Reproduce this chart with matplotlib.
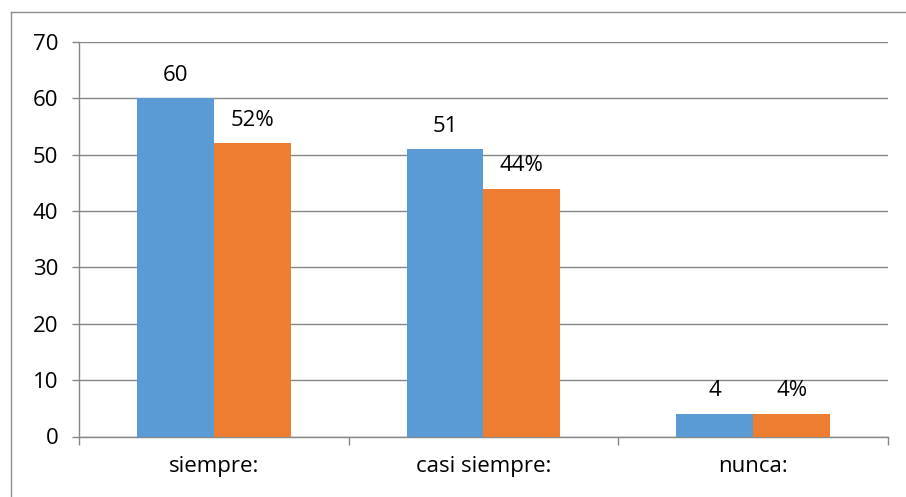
import matplotlib.pyplot as plt
import numpy as np
from matplotlib.lines import Line2D

# Survey answers: counts and percentages per option
categories = ['siempre:', 'casi siempre:', 'nunca:']
counts = [60, 51, 4]
percents = [52, 44, 4]

plt.rcParams['font.family'] = ['Open Sans', 'DejaVu Sans']

fig = plt.figure(figsize=(9.06, 4.97), dpi=100)
ax = fig.add_axes([79 / 906, 1 - 436.5 / 497, 809 / 906, 394.5 / 497])

x = np.arange(len(categories))
w = 0.285
blue = '#5B9BD5'
orange = '#ED7D31'
grid_c = '#868686'

b1 = ax.bar(x - w / 2, counts, w, color=blue, zorder=3)
b2 = ax.bar(x + w / 2, percents, w, color=orange, zorder=3)

for rect, v in zip(b1, counts):
    ax.annotate(str(v), (rect.get_x() + rect.get_width() / 2, v),
                xytext=(0, 9), textcoords='offset points',
                ha='center', va='bottom', fontsize=16)
for rect, v in zip(b2, percents):
    ax.annotate(f'{v}%', (rect.get_x() + rect.get_width() / 2, v),
                xytext=(0, 9), textcoords='offset points',
                ha='center', va='bottom', fontsize=16)

ax.set_xlim(-0.5, 2.5)
ax.set_ylim(0, 70)
ax.set_yticks(range(0, 71, 10))
ax.yaxis.grid(True, color=grid_c, lw=1)
ax.set_axisbelow(True)

# category labels centered, tick marks between categories
ax.set_xticks(x)
ax.set_xticklabels(categories, fontsize=16)
ax.tick_params(axis='x', length=0, pad=14)
ax.set_xticks([-0.5, 0.5, 1.5, 2.5], minor=True)
ax.tick_params(axis='x', which='minor', length=6, color=grid_c, width=1)
ax.tick_params(axis='y', length=5, color=grid_c, width=1, labelsize=16, pad=10)

for s in ['top', 'right']:
    ax.spines[s].set_visible(False)
for s in ['left', 'bottom']:
    ax.spines[s].set_color(grid_c)
    ax.spines[s].set_linewidth(1)

# chart area frame
fig.add_artist(Line2D([11 / 906, 1], [1 - 12 / 497, 1 - 12 / 497],
                      color='#8c8c8c', lw=1, transform=fig.transFigure))
fig.add_artist(Line2D([11 / 906, 11 / 906], [0, 1 - 12 / 497],
                      color='#8c8c8c', lw=1, transform=fig.transFigure))

fig.savefig('out.png', dpi=100)
